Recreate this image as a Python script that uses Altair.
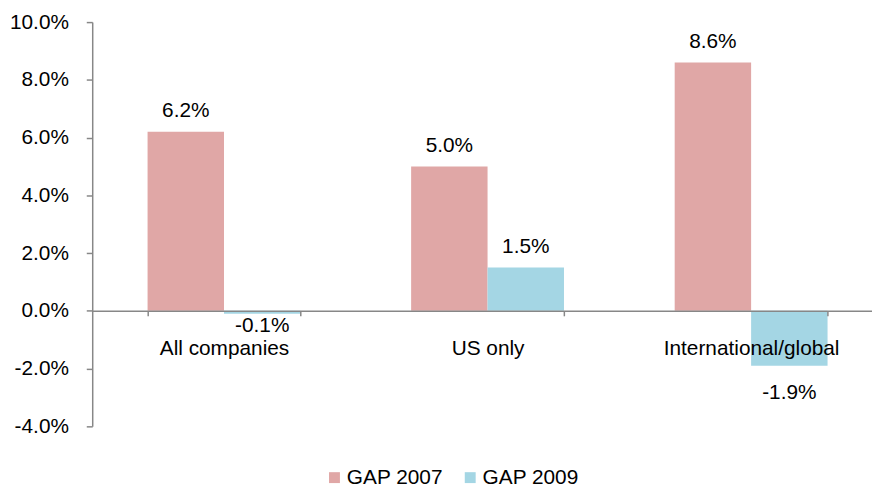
import altair as alt
import pandas as pd

categories = ["All companies", "US only", "International/global"]
series = ["GAP 2007", "GAP 2009"]
gap_2007 = [6.2, 5.0, 8.6]
gap_2009 = [-0.1, 1.5, -1.9]
y_ticks = [-4, -2, 0, 2, 4, 6, 8, 10]
colors = ["#E0A7A6", "#A4D6E4"]

rows = []
for c, a, b in zip(categories, gap_2007, gap_2009):
    rows.append({"category": c, "series": series[0], "value": a})
    rows.append({"category": c, "series": series[1], "value": b})
df = pd.DataFrame(rows)

FONT = "Liberation Sans"
GREY = "#878787"
W = 779
H = 408
Y_MIN, Y_MAX = -4, 10
PCT = "(datum.value < 0 ? '-' : '') + format(abs(datum.value), '.1f') + '%'"

x_enc = alt.X(
    "category:N",
    sort=categories,
    scale=alt.Scale(range=[0, 798], paddingInner=0.42, paddingOuter=0.21),
    axis=alt.Axis(
        title=None, orient="bottom", offset=-H * (0 - Y_MIN) / (Y_MAX - Y_MIN),
        labelAngle=0, labelFontSize=21, labelFont=FONT, labelColor="black",
        labelPadding=22, tickBand="extent", tickSize=5, tickColor=GREY,
        tickWidth=1.5, domainColor=GREY, domainWidth=1.5, zindex=1,
    ),
)
xo_enc = alt.XOffset("series:N", sort=series, scale=alt.Scale(paddingInner=0, paddingOuter=0))
y_enc = alt.Y(
    "value:Q",
    scale=alt.Scale(domain=[Y_MIN, Y_MAX], nice=False),
    axis=alt.Axis(
        values=y_ticks, labelExpr=PCT,
        grid=False, title=None, tickSize=6, labelPadding=18,
        labelFontSize=21, labelFont=FONT, labelColor="black",
        tickColor=GREY, tickWidth=1.5, domainColor=GREY, domainWidth=1.5,
    ),
)

bars = alt.Chart().mark_bar().encode(
    x=x_enc,
    xOffset=xo_enc,
    y=y_enc,
    color=alt.Color(
        "series:N",
        scale=alt.Scale(domain=series, range=colors),
        legend=alt.Legend(
            orient="none", legendX=234, legendY=449, direction="horizontal",
            title=None, symbolType="square", symbolSize=121, symbolStrokeWidth=0,
            labelFontSize=21, labelFont=FONT, labelColor="black",
            labelOffset=2, columnPadding=17, padding=0,
        ),
    ),
)

pos_text = alt.Chart().transform_filter("datum.value >= 0").transform_calculate(
    label=PCT
).mark_text(baseline="alphabetic", dy=-15, fontSize=21, font=FONT, color="black").encode(
    x=alt.X("category:N", sort=categories), xOffset=alt.XOffset("series:N", sort=series),
    y="value:Q", text="label:N",
)

# negative labels sit a little beyond the bar end, proportionally to its length
neg_text = alt.Chart().transform_filter("datum.value < 0").transform_calculate(
    label=PCT, label_y="datum.value * 1.29"
).mark_text(baseline="top", dy=1, fontSize=21, font=FONT, color="black").encode(
    x=alt.X("category:N", sort=categories), xOffset=alt.XOffset("series:N", sort=series),
    y="label_y:Q", text="label:N",
)

chart = alt.layer(bars, pos_text, neg_text, data=df).properties(
    width=W, height=H,
    padding={"left": 85, "top": 12, "right": 8, "bottom": 61},
    autosize=alt.AutoSizeParams(type="none"),
).configure_view(stroke=None)

chart.save("out.html", embed_options={"renderer": "svg", "actions": False})
